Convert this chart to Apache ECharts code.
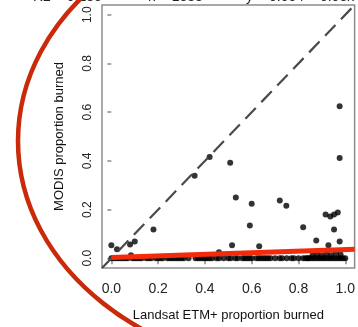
<!DOCTYPE html>
<html>
<head>
<meta charset="utf-8">
<script src="https://cdn.jsdelivr.net/npm/echarts@6/dist/echarts.min.js"></script>
<style>
html,body{margin:0;padding:0;background:#fff;overflow:hidden;}
#chart{width:358px;height:327px;}
</style>
</head>
<body>
<div id="chart"></div>
<script>
// Tick values / labels
const xTickValues = [0, 0.2, 0.4, 0.6, 0.8, 1.0];
const yTickValues = [0, 0.2, 0.4, 0.6, 0.8, 1.0];
const xTickLabels = ['0.0', '0.2', '0.4', '0.6', '0.8', '1.0'];
const yTickLabels = ['0.0', '0.2', '0.4', '0.6', '0.8', '1.0'];

// Scattered points above zero (Landsat x, MODIS y)
const scatterX = [0.0, 0.024, 0.08, 0.10, 0.18, 0.084, 0.356, 0.42, 0.508, 0.532, 0.60, 0.72, 0.748, 0.592,
  0.516, 0.632, 0.46, 0.82, 0.876, 0.928, 0.916, 0.936, 0.952, 0.968, 0.952, 0.976, 0.976, 0.976];
const scatterY = [0.053, 0.037, 0.057, 0.069, 0.118, 0.012, 0.339, 0.416, 0.392, 0.249, 0.224, 0.237, 0.216, 0.135,
  0.053, 0.049, 0.025, 0.127, 0.073, 0.053, 0.18, 0.171, 0.18, 0.188, 0.118, 0.069, 0.624, 0.412];

// Dense band of points near zero MODIS burned proportion
const bandX = [0.0, 0.01, 0.02, 0.03, 0.04, 0.05, 0.06, 0.07, 0.09, 0.10, 0.11, 0.12, 0.13, 0.15, 0.16, 0.17,
  0.19, 0.20, 0.21, 0.22, 0.24, 0.25, 0.26, 0.27, 0.28, 0.29, 0.30, 0.31, 0.33, 0.36, 0.37, 0.38, 0.39,
  0.40, 0.41, 0.42, 0.43, 0.45, 0.46, 0.48, 0.50, 0.51, 0.53, 0.54, 0.56, 0.57, 0.58, 0.59, 0.60, 0.62,
  0.63, 0.64, 0.65, 0.66, 0.67, 0.68, 0.70, 0.72, 0.73, 0.75, 0.77, 0.78, 0.80, 0.82, 0.83, 0.84, 0.85,
  0.86, 0.87, 0.88, 0.89, 0.90, 0.91, 0.92, 0.93, 0.94, 0.95, 0.96, 0.97, 0.98, 0.99, 1.0,
  0.84, 0.86, 0.88, 0.90, 0.92, 0.94, 0.96, 0.98];
const bandY = [0, 0, 0, 0, 0, 0, 0, 0, 0, 0, 0, 0, 0, 0, 0, 0,
  0, 0, 0, 0, 0, 0, 0, 0, 0, 0, 0, 0, 0, 0, 0, 0, 0,
  0, 0, 0, 0, 0, 0, 0, 0, 0, 0, 0, 0, 0, 0, 0, 0, 0,
  0, 0, 0, 0, 0, 0, 0, 0, 0, 0, 0, 0, 0, 0, 0, 0, 0,
  0, 0, 0, 0, 0, 0, 0, 0, 0, 0, 0, 0, 0, 0, 0, 0,
  0.012, 0.018, 0.010, 0.020, 0.012, 0.022, 0.015, 0.025];

// 1:1 line and fitted regression line end points
const oneToOneX = [-0.04, 1.04];
const oneToOneY = [-0.04, 1.04];
const fitX = [0.0, 1.04];
const fitY = [0.003, 0.037];

const zip = (a, b) => a.map((v, i) => [v, b[i]]);

const chart = echarts.init(document.getElementById('chart'), null, {renderer: 'canvas'});
const axisGray = '#8c8c8c';
const font = '"Liberation Sans", Arial, Helvetica, sans-serif';

chart.setOption({
  animation: false,
  backgroundColor: '#fff',
  grid: {
    left: 102, top: 5, width: 270, height: 265,
    show: true, borderColor: axisGray, borderWidth: 1.5, backgroundColor: 'transparent'
  },
  xAxis: {
    type: 'value', min: -0.04, max: 1.04,
    splitLine: {show: false},
    axisLine: {show: false},
    axisTick: {show: true, customValues: xTickValues, length: 6, inside: false, lineStyle: {color: axisGray, width: 1.5}},
    axisLabel: {
      customValues: xTickValues, margin: 14, fontSize: 14, fontFamily: font, color: '#222',
      formatter: v => xTickLabels[xTickValues.findIndex(t => Math.abs(t - v) < 1e-9)]
    },
    name: 'Landsat ETM+ proportion burned', nameLocation: 'middle', nameGap: 41,
    nameTextStyle: {fontSize: 13, fontFamily: font, color: '#111'}
  },
  yAxis: {
    type: 'value', min: -0.04, max: 1.04,
    splitLine: {show: false},
    axisLine: {show: false},
    axisTick: {show: true, customValues: yTickValues, length: 4, lineStyle: {color: axisGray, width: 1.5}},
    axisLabel: {
      customValues: yTickValues, margin: 8, fontSize: 12, fontFamily: font, color: '#222', rotate: 90,
      formatter: v => yTickLabels[yTickValues.findIndex(t => Math.abs(t - v) < 1e-9)]
    },
    name: 'MODIS proportion burned', nameLocation: 'middle', nameGap: 36, nameRotate: 90,
    nameTextStyle: {fontSize: 13, fontFamily: font, color: '#111'}
  },
  series: [
    {
      type: 'scatter', data: zip(bandX, bandY), symbolSize: 6,
      itemStyle: {color: '#000'}, z: 2
    },
    {
      type: 'scatter', data: zip(scatterX, scatterY), symbolSize: 6,
      itemStyle: {color: '#000'}, z: 2
    },
    {
      type: 'line', data: zip(oneToOneX, oneToOneY), symbol: 'none',
      lineStyle: {color: '#4a4a4a', width: 2.2, type: [15, 8]}, z: 3
    },
    {
      type: 'line', data: zip(fitX, fitY), symbol: 'none',
      lineStyle: {color: '#f42a0c', width: 5}, z: 4
    }
  ],
  graphic: [
    {type: 'text', x: 33, y: 4, style: {text: 'R2 = 0.185', font: '14px ' + font, fill: '#222', verticalAlign: 'bottom', textVerticalAlign: 'bottom'}},
    {type: 'text', x: 148, y: 4, style: {text: 'n = 1388', font: '14px ' + font, fill: '#222', verticalAlign: 'bottom', textVerticalAlign: 'bottom'}},
    {type: 'text', x: 246, y: 4, style: {text: 'y = 0.054 + 0.03x', font: '14px ' + font, fill: '#222', verticalAlign: 'bottom', textVerticalAlign: 'bottom'}},
    {
      type: 'ellipse', z: 100,
      shape: {cx: 310, cy: 141, rx: 292, ry: 230},
      style: {fill: 'none', stroke: '#c92a0a', lineWidth: 4.5}
    }
  ]
});
</script>
</body>
</html>
